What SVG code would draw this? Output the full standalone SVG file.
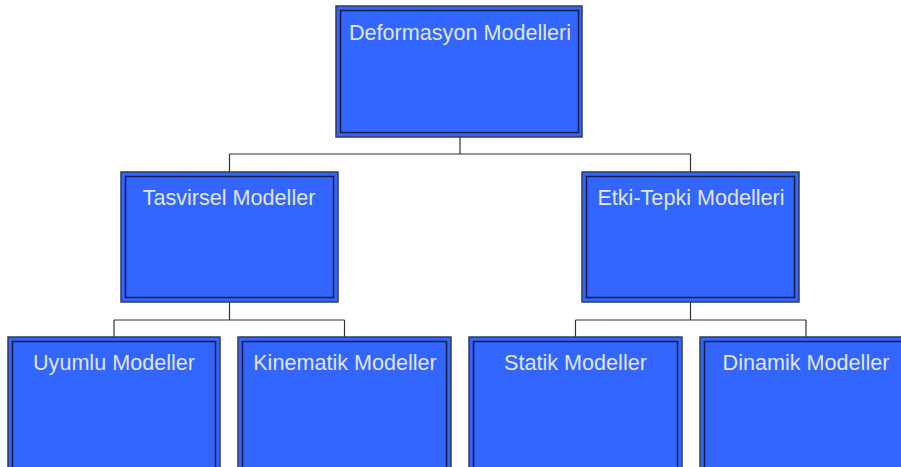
<svg xmlns="http://www.w3.org/2000/svg" width="901" height="467" viewBox="0 0 901 467">
  <style>
    .outer { fill: #3366ff; stroke: #363b58; stroke-width: 1.5; }
    .inner { fill: none; stroke: #141c4a; stroke-width: 1.5; }
    .label { font-family: "Liberation Sans", Arial, sans-serif; font-size: 21.6px; fill: #dfe4f2; text-anchor: middle; }
    .wire { fill: none; stroke: #333; stroke-width: 1.2; }
  </style>
  <rect width="901" height="467" fill="#ffffff"/>

  <!-- tree connectors -->
  <g id="connectors">
    <path class="wire" d="M460 137 V154 M229.5 154 H690.5 M229.5 154 V172 M690.5 154 V172"/>
    <path class="wire" d="M229.5 302 V320 M114 320 H344.5 M114 320 V337 M344.5 320 V337"/>
    <path class="wire" d="M690.5 302 V320 M575.5 320 H806 M575.5 320 V337 M806 320 V337"/>
  </g>

  <g id="deformasyon">
    <rect class="outer" x="336" y="6" width="246" height="131"/>
    <rect class="inner" x="340.5" y="10.5" width="238" height="122"/>
    <text class="label" x="460" y="40">Deformasyon Modelleri</text>
  </g>

  <g id="tasvirsel">
    <rect class="outer" x="121" y="172" width="217" height="130"/>
    <rect class="inner" x="125.5" y="176.5" width="208" height="121"/>
    <text class="label" x="229" y="205">Tasvirsel Modeller</text>
  </g>

  <g id="etki-tepki">
    <rect class="outer" x="582" y="172" width="217" height="130"/>
    <rect class="inner" x="586.5" y="176.5" width="208" height="121"/>
    <text class="label" x="691" y="205">Etki-Tepki Modelleri</text>
  </g>

  <g id="uyumlu">
    <rect class="outer" x="8" y="337" width="212" height="140"/>
    <rect class="inner" x="12.5" y="341.5" width="203" height="131"/>
    <text class="label" x="114" y="370">Uyumlu Modeller</text>
  </g>

  <g id="kinematik">
    <rect class="outer" x="238" y="337" width="213" height="140"/>
    <rect class="inner" x="242.5" y="341.5" width="204" height="131"/>
    <text class="label" x="345" y="370">Kinematik Modeller</text>
  </g>

  <g id="statik">
    <rect class="outer" x="469" y="337" width="213" height="140"/>
    <rect class="inner" x="473.5" y="341.5" width="204" height="131"/>
    <text class="label" x="575.5" y="370">Statik Modeller</text>
  </g>

  <g id="dinamik">
    <rect class="outer" x="700" y="337" width="213" height="140"/>
    <rect class="inner" x="704.5" y="341.5" width="204" height="131"/>
    <text class="label" x="806" y="370">Dinamik Modeller</text>
  </g>
</svg>
